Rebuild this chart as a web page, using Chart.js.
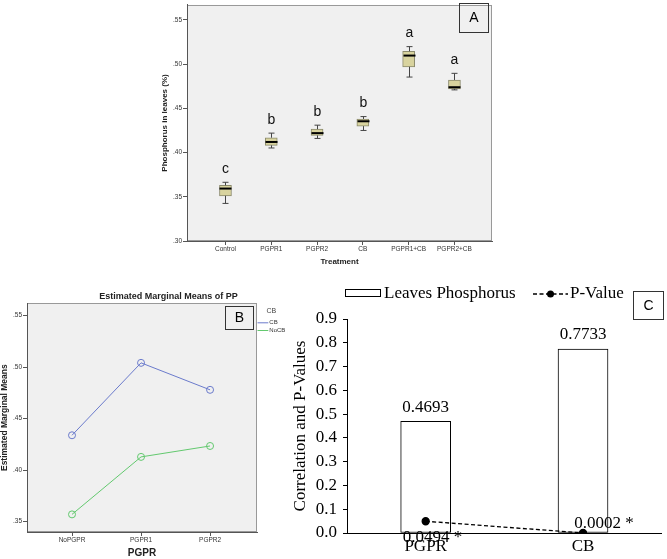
<!DOCTYPE html>
<html>
<head>
<meta charset="utf-8">
<script src="https://cdn.jsdelivr.net/npm/chart.js@4.4.1/dist/chart.umd.min.js"></script>
<style>
body{margin:0;background:#fff;width:667px;height:559px;overflow:hidden;position:relative}
canvas{position:absolute}
</style>
</head>
<body>
<canvas id="chartA" width="350" height="270" style="left:150px;top:0"></canvas>
<canvas id="chartB" width="310" height="289" style="left:0;top:270px"></canvas>
<canvas id="chartC" width="427" height="289" style="left:240px;top:270px"></canvas>
<script>
// panel A - leaf phosphorus per treatment (box plot)
var treatments = ['Control', 'PGPR1', 'PGPR2', 'CB', 'PGPR1+CB', 'PGPR2+CB'];
var pMin = [0.3425, 0.4052, 0.4160, 0.4250, 0.4854, 0.4709];
var pQ1  = [0.3511, 0.4082, 0.4194, 0.4299, 0.4970, 0.4720];
var pMed = [0.3593, 0.4120, 0.4220, 0.4354, 0.5097, 0.4739];
var pQ3  = [0.3630, 0.4168, 0.4265, 0.4380, 0.5146, 0.4821];
var pMax = [0.3664, 0.4220, 0.4310, 0.4407, 0.5198, 0.4896];
var letters = ['c', 'b', 'b', 'b', 'a', 'a'];
var yTicksA = [0.30, 0.35, 0.40, 0.45, 0.50, 0.55];

// panel B - estimated marginal means
var pgprLevels = ['NoPGPR', 'PGPR1', 'PGPR2'];
var meansCB = [0.4339, 0.5042, 0.4780];
var meansNoCB = [0.3571, 0.4129, 0.4235];
var yTicksB = [0.35, 0.40, 0.45, 0.50, 0.55];

// panel C - correlation and p-values
var factors = ['PGPR', 'CB'];
var corrLeaves = [0.4693, 0.7733];
var pValues = [0.0494, 0.0002];
var pLabels = ['0.0494 *', '0.0002 *'];
var yTicksC = [0, 0.1, 0.2, 0.3, 0.4, 0.5, 0.6, 0.7, 0.8, 0.9];

var SANS = '"Liberation Sans", Arial, sans-serif';
var SERIF = '"Liberation Serif", "Times New Roman", serif';
Chart.defaults.font.family = SANS;

function spssFmt(v) { return v.toFixed(2).replace(/^0/, ''); }

function panelBg(fill, stroke) {
  return {
    id: 'panelBg',
    beforeDraw: function(chart) {
      var a = chart.chartArea, ctx = chart.ctx;
      ctx.save();
      ctx.fillStyle = fill;
      ctx.fillRect(a.left, a.top, a.right - a.left, a.bottom - a.top);
      ctx.strokeStyle = stroke;
      ctx.lineWidth = 1;
      ctx.strokeRect(Math.round(a.left) + 0.5, Math.round(a.top) + 0.5, Math.round(a.right - a.left) - 1, Math.round(a.bottom - a.top) - 1);
      ctx.restore();
    }
  };
}

function tag(ctx, x, y, w, h, txt) {
  ctx.save();
  ctx.strokeStyle = '#333';
  ctx.lineWidth = 1;
  ctx.strokeRect(x + 0.5, y + 0.5, w, h);
  ctx.fillStyle = '#000';
  ctx.font = '14px ' + SANS;
  ctx.textAlign = 'center';
  ctx.textBaseline = 'middle';
  ctx.fillText(txt, x + w / 2 + 0.5, y + h / 2 + 1);
  ctx.restore();
}

// whiskers, medians and letters on top of the floating bars
var boxParts = {
  id: 'boxParts',
  afterDatasetsDraw: function(chart) {
    var ctx = chart.ctx, xs = chart.scales.x, ys = chart.scales.y;
    ctx.save();
    for (var i = 0; i < treatments.length; i++) {
      var x = Math.round(xs.getPixelForValue(i)) + 0.5;
      var top = ys.getPixelForValue(pMax[i]), q3 = ys.getPixelForValue(pQ3[i]);
      var q1 = ys.getPixelForValue(pQ1[i]), bot = ys.getPixelForValue(pMin[i]);
      var med = ys.getPixelForValue(pMed[i]);
      ctx.strokeStyle = '#444';
      ctx.lineWidth = 1;
      ctx.beginPath();
      ctx.moveTo(x, top); ctx.lineTo(x, q3);
      ctx.moveTo(x, q1); ctx.lineTo(x, bot);
      ctx.moveTo(x - 3, top); ctx.lineTo(x + 3, top);
      ctx.moveTo(x - 3, bot); ctx.lineTo(x + 3, bot);
      ctx.stroke();
      ctx.strokeStyle = '#000';
      ctx.lineWidth = 2;
      ctx.beginPath();
      ctx.moveTo(x - 6, med); ctx.lineTo(x + 6, med);
      ctx.stroke();
      ctx.fillStyle = '#111';
      ctx.font = '14px ' + SANS;
      ctx.textAlign = 'center';
      ctx.textBaseline = 'middle';
      ctx.fillText(letters[i], x, top - 13);
    }
    tag(ctx, 309, 3, 29, 29, 'A');
    ctx.restore();
  }
};

new Chart(document.getElementById('chartA'), {
  type: 'bar',
  data: {
    datasets: [{
      data: treatments.map(function(t, i) { return {x: i, y: [pQ1[i], pQ3[i]]}; }),
      backgroundColor: '#d8d39e',
      borderColor: '#8b8a6c',
      borderWidth: 1,
      borderSkipped: false,
      barThickness: 12
    }]
  },
  options: {
    responsive: false,
    animation: false,
    layout: {padding: {left: 0, right: 8, top: 2, bottom: 0}},
    plugins: {legend: {display: false}, tooltip: {enabled: false}},
    scales: {
      x: {
        type: 'linear', min: -0.84, max: 5.82, offset: false,
        afterBuildTicks: function(s) { s.ticks = treatments.map(function(t, i) { return {value: i}; }); },
        ticks: {callback: function(v) { return treatments[v]; }, font: {size: 6.5}, color: '#333', padding: 0, maxRotation: 0, autoSkip: false},
        grid: {drawOnChartArea: false, offset: false, tickLength: 4, color: '#555'},
        border: {color: '#555'},
        title: {display: true, text: 'Treatment', font: {size: 8, weight: 'bold'}, color: '#222', padding: {top: 0, bottom: 3}},
        afterFit: function(s) { s.height = 29; }
      },
      y: {
        min: 0.30, max: 0.567,
        afterBuildTicks: function(s) { s.ticks = yTicksA.map(function(v) { return {value: v}; }); },
        ticks: {callback: spssFmt, font: {size: 6.5}, color: '#333', padding: 1},
        grid: {drawOnChartArea: false, tickLength: 4, color: '#555'},
        border: {color: '#555'},
        title: {display: true, text: 'Phosphorus in leaves (%)', font: {size: 8, weight: 'bold'}, color: '#222', padding: {top: 10, bottom: 0}},
        afterFit: function(s) { s.width = 37; }
      }
    }
  },
  plugins: [panelBg('#f0f0f0', '#999'), boxParts]
});

// panel B extras: title, legend, tag
var bExtras = {
  id: 'bExtras',
  afterDraw: function(chart) {
    var ctx = chart.ctx;
    ctx.save();
    ctx.fillStyle = '#222';
    ctx.font = 'bold 9px ' + SANS;
    ctx.textAlign = 'center';
    ctx.textBaseline = 'middle';
    ctx.fillText('Estimated Marginal Means of PP', 168.5, 26.7);
    ctx.fillStyle = '#444';
    ctx.font = '7px ' + SANS;
    ctx.fillText('CB', 271.3, 40.7);
    var items = [['CB', '#6b7bcc', 52.3], ['NoCB', '#63c96f', 60]];
    items.forEach(function(it) {
      ctx.strokeStyle = it[1];
      ctx.lineWidth = 1;
      ctx.beginPath();
      ctx.moveTo(257.5, it[2] + 0.5); ctx.lineTo(268.3, it[2] + 0.5);
      ctx.stroke();
      ctx.fillStyle = '#333';
      ctx.font = '6px ' + SANS;
      ctx.textAlign = 'left';
      ctx.fillText(it[0], 269.3, it[2] + 0.5);
    });
    tag(ctx, 225, 36, 28, 23, 'B');
    ctx.restore();
  }
};

new Chart(document.getElementById('chartB'), {
  type: 'line',
  data: {
    datasets: [
      {label: 'CB', data: pgprLevels.map(function(p, i) { return {x: i, y: meansCB[i]}; }),
        borderColor: '#6b7bcc', borderWidth: 1, pointRadius: 3.5, pointBorderColor: '#6b7bcc', pointBackgroundColor: 'rgba(0,0,0,0)', pointBorderWidth: 1, tension: 0},
      {label: 'NoCB', data: pgprLevels.map(function(p, i) { return {x: i, y: meansNoCB[i]}; }),
        borderColor: '#63c96f', borderWidth: 1, pointRadius: 3.5, pointBorderColor: '#63c96f', pointBackgroundColor: 'rgba(0,0,0,0)', pointBorderWidth: 1, tension: 0}
    ]
  },
  options: {
    responsive: false,
    animation: false,
    layout: {padding: {left: 0, right: 53, top: 33.3, bottom: 0}},
    plugins: {legend: {display: false}, tooltip: {enabled: false}},
    scales: {
      x: {
        type: 'linear', min: -0.652, max: 2.68,
        afterBuildTicks: function(s) { s.ticks = pgprLevels.map(function(p, i) { return {value: i}; }); },
        ticks: {callback: function(v) { return pgprLevels[v]; }, font: {size: 6.5}, color: '#333', padding: 0, maxRotation: 0, autoSkip: false},
        grid: {drawOnChartArea: false, tickLength: 4, color: '#555'},
        border: {color: '#555'},
        title: {display: true, text: 'PGPR', font: {size: 10, weight: 'bold'}, color: '#222', padding: {top: 0, bottom: 0}},
        afterFit: function(s) { s.height = 27; }
      },
      y: {
        min: 0.340, max: 0.562,
        afterBuildTicks: function(s) { s.ticks = yTicksB.map(function(v) { return {value: v}; }); },
        ticks: {callback: spssFmt, font: {size: 6.5}, color: '#333', padding: 1},
        grid: {drawOnChartArea: false, tickLength: 4, color: '#555'},
        border: {color: '#555'},
        title: {display: true, text: 'Estimated Marginal Means', font: {size: 8.5, weight: 'bold'}, color: '#222', padding: {top: 0, bottom: 0}},
        afterFit: function(s) { s.width = 27; }
      }
    }
  },
  plugins: [panelBg('#f0f0f0', '#999'), bExtras]
});

// panel C extras: value labels, legend, tag
var cExtras = {
  id: 'cExtras',
  afterDatasetsDraw: function(chart) {
    var ctx = chart.ctx, xs = chart.scales.x, ys = chart.scales.y;
    ctx.save();
    ctx.fillStyle = '#000';
    ctx.font = '17px ' + SERIF;
    ctx.textAlign = 'center';
    ctx.textBaseline = 'alphabetic';
    for (var i = 0; i < factors.length; i++) {
      var x = xs.getPixelForValue(i);
      ctx.fillText(corrLeaves[i].toFixed(4), x, ys.getPixelForValue(corrLeaves[i]) - 9.8);
    }
    var p0 = ys.getPixelForValue(pValues[0]), p1 = ys.getPixelForValue(pValues[1]);
    ctx.fillText(pLabels[0], xs.getPixelForValue(0) + 6.7, p0 + 20.7);
    ctx.fillText(pLabels[1], xs.getPixelForValue(1) + 21, p1 - 5.3);

    // legend
    ctx.strokeStyle = '#000';
    ctx.lineWidth = 1;
    ctx.strokeRect(105.5, 19.5, 35, 7);
    ctx.textAlign = 'left';
    ctx.fillText('Leaves Phosphorus', 144, 28.3);
    ctx.setLineDash([4, 2.5]);
    ctx.lineWidth = 1.3;
    ctx.beginPath();
    ctx.moveTo(293, 24); ctx.lineTo(328, 24);
    ctx.stroke();
    ctx.setLineDash([]);
    ctx.beginPath();
    ctx.arc(310.5, 24, 3.5, 0, Math.PI * 2);
    ctx.fill();
    ctx.fillText('P-Value', 330, 28.3);
    ctx.restore();
    tag(ctx, 393, 21, 30, 28, 'C');
  }
};

new Chart(document.getElementById('chartC'), {
  type: 'bar',
  data: {
    labels: factors,
    datasets: [
      {type: 'line', label: 'P-Value', data: pValues, borderColor: '#000', borderWidth: 1.3, borderDash: [4, 2.5],
        pointRadius: 3.5, pointBackgroundColor: '#000', pointBorderColor: '#000', fill: false, order: 0},
      {type: 'bar', label: 'Leaves Phosphorus', data: corrLeaves, backgroundColor: '#fff', borderColor: '#000',
        borderWidth: 1, borderSkipped: false, barThickness: 50, order: 1}
    ]
  },
  options: {
    responsive: false,
    animation: false,
    layout: {padding: {left: 0, right: 0, top: 49, bottom: 0}},
    plugins: {legend: {display: false}, tooltip: {enabled: false}},
    scales: {
      x: {
        offset: true,
        grid: {display: false, drawTicks: false},
        border: {color: '#000'},
        ticks: {font: {size: 17, family: SERIF}, color: '#000', padding: 3},
        afterFit: function(s) { s.height = 26; }
      },
      y: {
        min: 0, max: 0.9,
        afterBuildTicks: function(s) { s.ticks = yTicksC.map(function(v) { return {value: v}; }); },
        ticks: {callback: function(v) { return v.toFixed(1); }, font: {size: 17, family: SERIF}, color: '#000', padding: 6},
        grid: {drawOnChartArea: false, tickLength: 4, color: '#000'},
        border: {color: '#000'},
        title: {display: true, text: 'Correlation and P-Values', font: {size: 17, family: SERIF}, color: '#000', padding: {top: 50, bottom: 0}},
        afterFit: function(s) { s.width = 107; }
      }
    }
  },
  plugins: [cExtras]
});
</script>
</body>
</html>
